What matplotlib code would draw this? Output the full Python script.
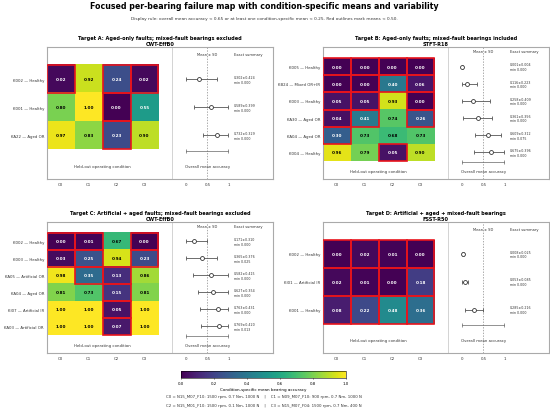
import numpy as np
import matplotlib
matplotlib.use("Agg")
import matplotlib.pyplot as plt
from matplotlib.patches import Rectangle
from matplotlib.cm import ScalarMappable
from matplotlib.colors import Normalize

CONDICOES = ["C0", "C1", "C2", "C3"]

# Painel A
titulo_a = "Target A: Aged-only faults; mixed-fault bearings excluded\nCWT-EffB0"
rotulos_a = ["K002 — Healthy", "K001 — Healthy", "KA22 — Aged OR"]
valores_a = [[0.02, 0.92, 0.24, 0.02],
             [0.80, 1.00, 0.00, 0.55],
             [0.97, 0.83, 0.23, 0.90]]
media_a = [0.302, 0.589, 0.732]
dp_a = [0.424, 0.399, 0.329]
min_a = [0.000, 0.000, 0.000]

# Painel B
titulo_b = "Target B: Aged-only faults; mixed-fault bearings included\nSTFT-R18"
rotulos_b = ["K005 — Healthy", "KB24 — Mixed OR+IR", "K003 — Healthy",
             "KA30 — Aged OR", "KA04 — Aged OR", "K004 — Healthy"]
valores_b = [[0.00, 0.00, 0.00, 0.00],
             [0.00, 0.00, 0.40, 0.06],
             [0.05, 0.05, 0.93, 0.00],
             [0.04, 0.41, 0.74, 0.26],
             [0.30, 0.73, 0.68, 0.73],
             [0.96, 0.79, 0.05, 0.90]]
media_b = [0.001, 0.116, 0.258, 0.361, 0.609, 0.675]
dp_b = [0.004, 0.223, 0.409, 0.356, 0.312, 0.396]
min_b = [0.000, 0.000, 0.000, 0.000, 0.075, 0.000]

# Painel C
titulo_c = "Target C: Artificial + aged faults; mixed-fault bearings excluded\nCWT-EffB0"
rotulos_c = ["K002 — Healthy", "K003 — Healthy", "KA05 — Artificial OR",
             "KA04 — Aged OR", "KI07 — Artificial IR", "KA03 — Artificial OR"]
valores_c = [[0.00, 0.01, 0.67, 0.00],
             [0.03, 0.25, 0.94, 0.23],
             [0.98, 0.35, 0.13, 0.86],
             [0.81, 0.73, 0.15, 0.81],
             [1.00, 1.00, 0.05, 1.00],
             [1.00, 1.00, 0.07, 1.00]]
media_c = [0.171, 0.365, 0.582, 0.627, 0.763, 0.769]
dp_c = [0.310, 0.376, 0.415, 0.354, 0.431, 0.420]
min_c = [0.000, 0.025, 0.000, 0.000, 0.000, 0.013]

# Painel D
titulo_d = "Target D: Artificial + aged + mixed-fault bearings\nFSST-R50"
rotulos_d = ["K002 — Healthy", "KI01 — Artificial IR", "K001 — Healthy"]
valores_d = [[0.00, 0.02, 0.01, 0.00],
             [0.02, 0.01, 0.00, 0.18],
             [0.08, 0.22, 0.48, 0.36]]
media_d = [0.008, 0.053, 0.285]
dp_d = [0.025, 0.085, 0.216]
min_d = [0.000, 0.000, 0.000]

RODAPE = ("C0 = N15_M07_F10: 1500 rpm, 0.7 Nm, 1000 N    |    C1 = N09_M07_F10: 900 rpm, 0.7 Nm, 1000 N\n\n"
          "C2 = N15_M01_F10: 1500 rpm, 0.1 Nm, 1000 N    |    C3 = N15_M07_F04: 1500 rpm, 0.7 Nm, 400 N")

# Posição da escala de acurácia à direita do heatmap
X0 = 4.5
ESCALA = 1.5
LIMIAR_VERMELHO = 0.50


def desenhar_painel(ax, titulo, rotulos, valores, media, dp, minimo):
    valores = np.array(valores)
    n = len(rotulos)

    ax.imshow(valores, cmap="viridis", vmin=0, vmax=1, aspect="auto",
              extent=(-0.5, 3.5, n - 0.5, -0.5), interpolation="nearest")

    # Texto e contorno vermelho de cada célula
    for i in range(n):
        for j in range(len(CONDICOES)):
            v = valores[i, j]
            cor = "white" if v < 0.6 else "black"
            ax.text(j, i, f"{v:.2f}", ha="center", va="center", fontsize=3,
                    fontweight="bold", color=cor)
            if v < LIMIAR_VERMELHO:
                ax.add_patch(Rectangle((j - 0.5, i - 0.5), 1, 1, fill=False,
                                       edgecolor="#e8141c", lw=1.2, zorder=3))

    # Separador e linha de referência 0.5
    ax.axvline(4.0, color="#cccccc", lw=0.6)
    ax.axvline(X0 + 0.5 * ESCALA, color="#888888", lw=0.5, ls=(0, (2, 2)))

    # Média ± DP (recortado em [0, 1])
    for i in range(n):
        lo = max(media[i] - dp[i], 0)
        hi = min(media[i] + dp[i], 1)
        xm = X0 + media[i] * ESCALA
        ax.errorbar(xm, i, xerr=[[xm - (X0 + lo * ESCALA)], [(X0 + hi * ESCALA) - xm]],
                    fmt="o", ms=2.8, mfc="white", mec="#333333", mew=0.6,
                    ecolor="#555555", elinewidth=0.6, capsize=1.3, capthick=0.5, zorder=4)
        ax.text(6.2, i, f"{media[i]:.3f}±{dp[i]:.3f}\nmin {minimo[i]:.3f}",
                ha="left", va="center", fontsize=2.3, color="#333333", linespacing=1.2)

    # Eixo de acurácia desenhado
    ax.plot([X0, X0 + ESCALA], [n - 0.45, n - 0.45], color="#666666", lw=0.5,
            marker="|", ms=2.5, mew=0.5)

    ax.text(X0 + 0.5 * ESCALA, -0.9, "Mean ± SD", ha="center", va="center",
            fontsize=2.6, color="#333333")
    ax.text(6.2, -0.9, "Exact summary", ha="left", va="center", fontsize=2.6,
            color="#333333")
    ax.text(1.5, n + 0.1, "Held-out operating condition", ha="center", va="center",
            fontsize=2.8, color="#333333")
    ax.text(X0 + 0.5 * ESCALA, n + 0.1, "Overall mean accuracy", ha="center",
            va="center", fontsize=2.8, color="#333333")

    ax.set_xlim(-0.5, 7.6)
    ax.set_ylim(n + 0.55, -1.15)
    ax.set_xticks([0, 1, 2, 3, X0, X0 + 0.5 * ESCALA, X0 + ESCALA])
    ax.set_xticklabels(CONDICOES + ["0", "0.5", "1"])
    ax.set_yticks(range(n))
    ax.set_yticklabels(rotulos)
    ax.tick_params(length=0, labelsize=2.8, pad=2, colors="#333333")
    for s in ax.spines.values():
        s.set_color("#aaaaaa")
        s.set_linewidth(0.8)
    ax.set_title(titulo, fontsize=3.6, fontweight="bold", pad=1.5, linespacing=1.1)


fig = plt.figure(figsize=(5.5, 4.1), dpi=100)

ax_a = fig.add_axes([0.0849, 0.561, 0.4115, 0.322])
ax_b = fig.add_axes([0.5867, 0.561, 0.4115, 0.322])
ax_c = fig.add_axes([0.0849, 0.137, 0.4115, 0.3195])
ax_d = fig.add_axes([0.5867, 0.137, 0.4115, 0.3195])

desenhar_painel(ax_a, titulo_a, rotulos_a, valores_a, media_a, dp_a, min_a)
desenhar_painel(ax_b, titulo_b, rotulos_b, valores_b, media_b, dp_b, min_b)
desenhar_painel(ax_c, titulo_c, rotulos_c, valores_c, media_c, dp_c, min_c)
desenhar_painel(ax_d, titulo_d, rotulos_d, valores_d, media_d, dp_d, min_d)

fig.text(0.48, 0.985, "Focused per-bearing failure map with condition-specific means and variability",
         ha="center", va="center", fontsize=5.7, fontweight="bold")
fig.text(0.48, 0.954, "Display rule: overall mean accuracy < 0.65 or at least one condition-specific mean < 0.25. "
         "Red outlines mark means < 0.50.", ha="center", va="center", fontsize=3.1, color="#333333")

# Barra de cores
cax = fig.add_axes([0.329, 0.0756, 0.3, 0.017])
cb = fig.colorbar(ScalarMappable(norm=Normalize(0, 1), cmap="viridis"), cax=cax,
                  orientation="horizontal", ticks=np.arange(0, 1.01, 0.2))
cb.ax.tick_params(labelsize=2.8, length=1, width=0.4, pad=1.5)
cb.outline.set_linewidth(0.4)
cb.set_label("Condition-specific mean bearing accuracy", fontsize=3, labelpad=1)

fig.text(0.48, 0.021, RODAPE, ha="center", va="center", fontsize=2.8,
         color="#333333", linespacing=1.1)

fig.savefig("out.png", dpi=100)
